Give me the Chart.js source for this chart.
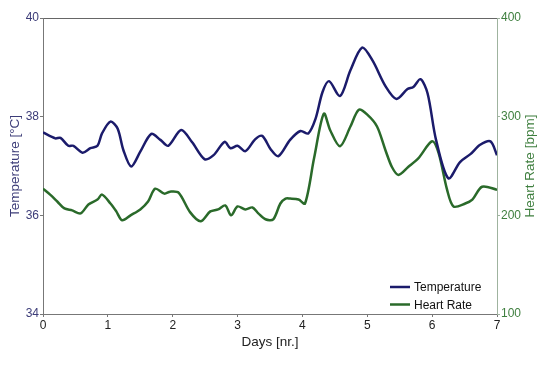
<!DOCTYPE html>
<html>
<head>
<meta charset="utf-8">
<script src="https://cdn.jsdelivr.net/npm/chart.js@4"></script>
<style>
  body { margin: 0; background: #fff; }
</style>
</head>
<body>
<canvas id="myChart" width="553" height="365"></canvas>
<script>
// values
var tempDays = [0, 0.19, 0.27, 0.39, 0.47, 0.61, 0.73, 0.84, 0.91,
    1.04, 1.15, 1.24, 1.36, 1.50, 1.67, 1.81, 1.93,
    2.13, 2.30, 2.49, 2.63, 2.80, 2.89,
    3.00, 3.12, 3.27, 3.38, 3.51, 3.63, 3.81, 3.97,
    4.09, 4.20, 4.31, 4.41, 4.58, 4.74, 4.92,
    5.08, 5.28, 5.45, 5.62, 5.71, 5.82, 5.93,
    6.06, 6.25, 6.43, 6.59, 6.74, 6.90, 7.00];
var tempValues = [37.68, 37.56, 37.57, 37.41, 37.41, 37.27, 37.36, 37.41, 37.66,
    37.90, 37.76, 37.32, 36.99, 37.29, 37.65, 37.53, 37.41,
    37.73, 37.48, 37.14, 37.22, 37.49, 37.36,
    37.41, 37.30, 37.54, 37.61, 37.34, 37.20, 37.53, 37.71,
    37.66, 37.95, 38.50, 38.72, 38.42, 38.94, 39.40,
    39.14, 38.62, 38.36, 38.56, 38.60, 38.76, 38.47,
    37.53, 36.75, 37.08, 37.24, 37.43, 37.50, 37.22];

var hrDays = [0, 0.11, 0.22, 0.33, 0.45, 0.58, 0.70, 0.84, 0.91,
    1.04, 1.13, 1.22, 1.35, 1.50, 1.62, 1.73, 1.87, 1.96,
    2.09, 2.27, 2.43, 2.58, 2.70, 2.81, 2.90,
    3.00, 3.12, 3.23, 3.32, 3.43, 3.55, 3.66, 3.74, 3.81, 3.94,
    4.04, 4.18, 4.33, 4.43, 4.58, 4.74, 4.87,
    5.00, 5.15, 5.28, 5.38, 5.48, 5.63, 5.79,
    6.00, 6.10, 6.23, 6.33, 6.51, 6.62, 6.77, 7.00];
var hrValues = [227, 221, 214, 207, 205, 202, 211, 216, 221,
    212, 204, 195, 200, 206, 214, 227, 222, 224,
    223, 203, 194, 204, 206, 210, 200,
    209, 206, 208, 202, 196, 196, 212, 217, 217, 216,
    212, 258, 303, 286, 270, 290, 307,
    302, 290, 266, 249, 241, 249, 258,
    275, 263, 226, 209, 212, 216, 229, 226];

var dayTicks = [0, 1, 2, 3, 4, 5, 6, 7];
var tempTicks = [34, 36, 38, 40];
var hrTicks = [100, 200, 300, 400];

function toPoints(xs, ys) {
    return xs.map(function (x, i) { return { x: x, y: ys[i] }; });
}

var FONT = '"Liberation Sans", Arial, sans-serif';
var tempColor = '#1b1b6b';
var hrColor = '#2a6a2a';
var hrLabelColor = '#3f7f3f';

// legend inside the plot (bottom right) and the right axis title, which
// reads bottom-to-top like the left one
var extras = {
    id: 'extras',
    afterDraw: function (chart) {
        var ctx = chart.ctx, area = chart.chartArea;
        ctx.save();
        ctx.font = '12px ' + FONT;
        ctx.textBaseline = 'middle';
        chart.data.datasets.forEach(function (ds, i) {
            var y = area.bottom - 27 + i * 17.5;
            var x = area.right - 107;
            ctx.strokeStyle = ds.borderColor;
            ctx.lineWidth = 2.5;
            ctx.beginPath();
            ctx.moveTo(x, y);
            ctx.lineTo(x + 20, y);
            ctx.stroke();
            ctx.fillStyle = '#111';
            ctx.fillText(ds.label, x + 24, y + 1);
        });
        ctx.restore();

        var s = chart.scales.y1;
        ctx.save();
        ctx.translate(s.right - 23, (area.top + area.bottom) / 2);
        ctx.rotate(-Math.PI / 2);
        ctx.font = '13.5px ' + FONT;
        ctx.fillStyle = hrLabelColor;
        ctx.textAlign = 'center';
        ctx.textBaseline = 'middle';
        ctx.fillText(s.options.title.text, 0, 0);
        ctx.restore();
    }
};

var ctx = document.getElementById("myChart").getContext('2d');
var myChart = new Chart(ctx, {
    type: 'line',
    data: {
        datasets: [{
            label: 'Temperature',
            data: toPoints(tempDays, tempValues),
            yAxisID: 'y',
            borderColor: tempColor,
            borderWidth: 2.5,
            pointRadius: 0,
            tension: 0.3,
            fill: false
        }, {
            label: 'Heart Rate',
            data: toPoints(hrDays, hrValues),
            yAxisID: 'y1',
            borderColor: hrColor,
            borderWidth: 2.5,
            pointRadius: 0,
            tension: 0.3,
            fill: false
        }]
    },
    options: {
        responsive: false,
        maintainAspectRatio: false,
        animation: false,
        layout: { padding: { top: 18 } },
        plugins: {
            legend: { display: false },
            tooltip: { enabled: false }
        },
        scales: {
            x: {
                type: 'linear',
                min: 0,
                max: 7,
                afterBuildTicks: function (s) { s.ticks = dayTicks.map(function (v) { return { value: v }; }); },
                afterFit: function (s) { s.height = 51; },
                grid: { display: true, drawOnChartArea: false, tickLength: 3, color: '#777' },
                border: { color: '#777', width: 1 },
                ticks: { color: '#222', padding: 1, font: { family: FONT, size: 12 } },
                title: {
                    display: true, text: 'Days [nr.]', color: '#222',
                    font: { family: FONT, size: 13.5 }, padding: { top: 0, bottom: 15 }
                }
            },
            xTop: {
                type: 'linear',
                position: 'top',
                min: 0,
                max: 7,
                afterFit: function (s) { s.height = 0; },
                grid: { display: false },
                border: { color: '#666', width: 1 },
                ticks: { display: false }
            },
            y: {
                type: 'linear',
                position: 'left',
                min: 34,
                max: 40,
                afterBuildTicks: function (s) { s.ticks = tempTicks.map(function (v) { return { value: v }; }); },
                afterFit: function (s) { s.width = 43; },
                grid: { display: true, drawOnChartArea: false, tickLength: 3, color: '#777' },
                border: { color: '#777', width: 1 },
                ticks: { color: '#3c3c78', padding: 1, font: { family: FONT, size: 12 } },
                title: {
                    display: true, text: 'Temperature [°C]', color: '#3c3c78',
                    font: { family: FONT, size: 13.5 }, padding: { top: 7, bottom: 0 }
                }
            },
            y1: {
                type: 'linear',
                position: 'right',
                min: 100,
                max: 400,
                afterBuildTicks: function (s) { s.ticks = hrTicks.map(function (v) { return { value: v }; }); },
                afterFit: function (s) { s.width = 56; },
                grid: { display: true, drawOnChartArea: false, tickLength: 3, color: '#9fb39f' },
                border: { color: '#9fb39f', width: 1 },
                ticks: { color: hrLabelColor, padding: 1, font: { family: FONT, size: 12 } },
                title: { display: false, text: 'Heart Rate [bpm]' }
            }
        }
    },
    plugins: [extras]
});
</script>
</body>
</html>
